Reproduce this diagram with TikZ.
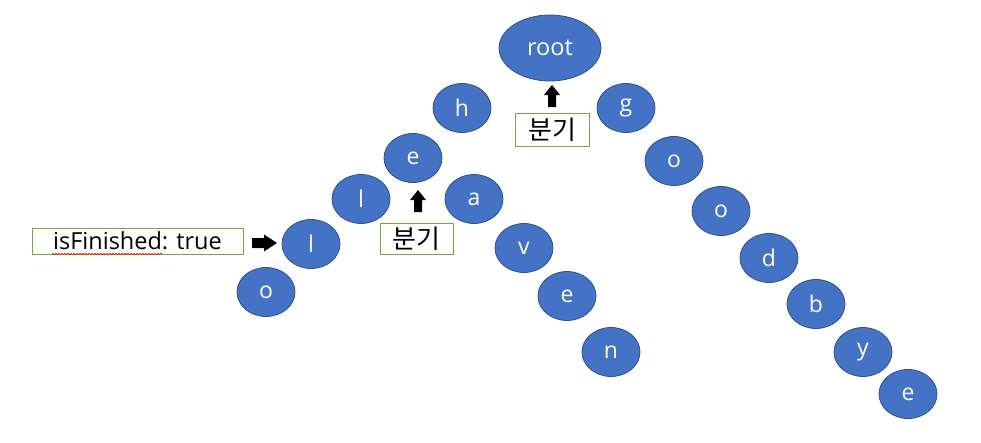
\documentclass[tikz,border=0pt]{standalone}
\usepackage{fontspec}
\setmainfont{Open Sans}
\newfontfamily\krfont{Noto Sans CJK KR}
\usetikzlibrary{shapes.geometric,decorations.pathmorphing}
\definecolor{nodeblue}{HTML}{4472C4}
\definecolor{nodeedge}{HTML}{2F528F}
\definecolor{boxgreen}{HTML}{70AD47}
\tikzset{
  letter/.style={ellipse, draw=nodeedge, line width=0.8pt, fill=nodeblue, text=white,
    minimum width=58pt, minimum height=49pt, inner sep=0pt, font=\fontsize{23}{23}\selectfont},
  labelbox/.style={draw=boxgreen, line width=0.9pt, inner sep=0pt, text=black},
  kr/.style={font=\krfont\fontsize{26}{26}\selectfont},
  uparrow/.pic={\fill[black] (-4,0) -- (-4,-12) -- (-8,-12) -- (0,-22) -- (8,-12) -- (4,-12) -- (4,0) -- cycle;},
  rightarrow/.pic={\fill[black] (0,-5) -- (12,-5) -- (12,-8.5) -- (25,0) -- (12,8.5) -- (12,5) -- (0,5) -- cycle;}
}
\begin{document}
\begin{tikzpicture}[x=1pt,y=-1pt]
\useasboundingbox (0,0) rectangle (981,442);
% root
\node[ellipse, draw=nodeedge, line width=0.8pt, fill=nodeblue, text=white, minimum width=102pt, minimum height=66pt, inner sep=0pt, font=\fontsize{23.5}{23.5}\selectfont] (root) at (550,48) {root};
% left branch
\node[letter] (h) at (462,108) {h};
\node[letter] (e1) at (413,158) {e};
\node[letter] (l1) at (361,199) {l};
\node[letter] (l2) at (311,244) {l};
\node[letter] (o1) at (266,292) {o};
\node[letter] (a) at (474,199) {a};
\node[letter] (v) at (524,248) {v};
\node[letter] (e2) at (567,296) {e};
\node[letter] (n) at (611,352) {n};
% right branch
\node[letter] (g) at (626,108) {g};
\node[letter] (o2) at (674,161) {o};
\node[letter] (o3) at (721,211) {o};
\node[letter] (d) at (769,258) {d};
\node[letter] (b) at (816,304) {b};
\node[letter] (y) at (863,352) {y};
\node[letter] (e3) at (908,394) {e};
% boxes
\node[labelbox, kr, minimum width=74pt, minimum height=33pt] (bx1) at (552,130) {분기};
\node[labelbox, kr, minimum width=73pt, minimum height=31pt] (bx2) at (416.5,238.5) {분기};
\node[labelbox, minimum width=211pt, minimum height=26pt, font=\fontsize{23.5}{23.5}\selectfont] (bx3) at (137.5,241) {isFinished: true};
% block arrows
\coordinate (ar1) at (552,107);
\coordinate (ar2) at (418,212);
\coordinate (ar3) at (252,243);
\pic at (ar1) {uparrow};
\pic at (ar2) {uparrow};
\pic at (ar3) {rightarrow};
% spell-check squiggle
\coordinate (sq1) at (52,254);
\coordinate (sq2) at (163,254);
\draw[red, line width=0.5pt, decorate, decoration={snake, amplitude=0.8pt, segment length=3pt}] (sq1) -- (sq2);
\end{tikzpicture}
\end{document}
